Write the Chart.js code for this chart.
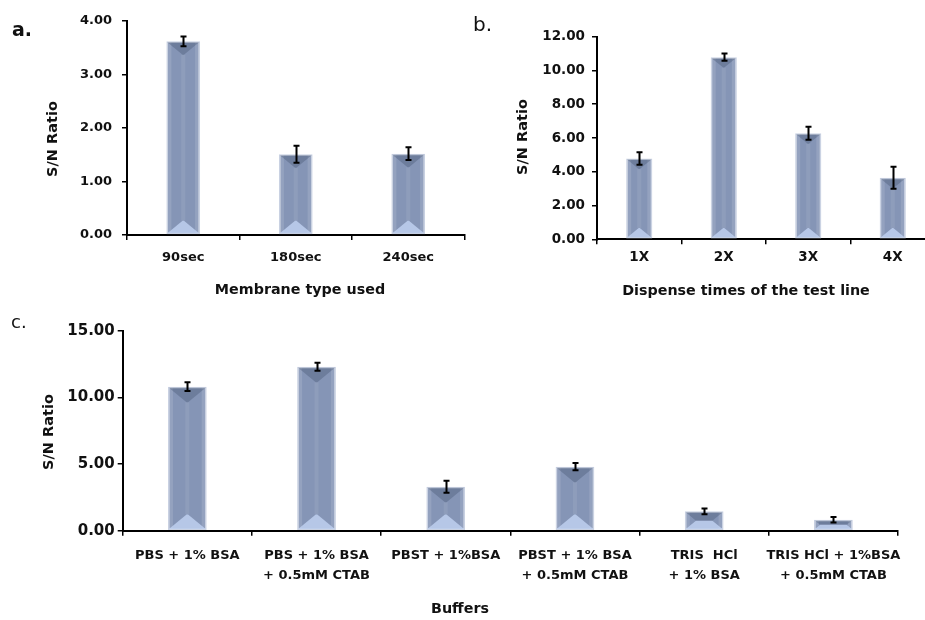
<!DOCTYPE html>
<html>
<head>
<meta charset="utf-8">
<script src="https://cdn.jsdelivr.net/npm/chart.js@4.4.1/dist/chart.umd.min.js"></script>
<style>
  html, body { margin: 0; padding: 0; background: #fff; }
  body { width: 925px; height: 620px; position: relative; overflow: hidden; font-family: "DejaVu Sans", sans-serif; color: #111; }
  .box { position: absolute; }
  .txt { position: absolute; white-space: pre; line-height: 1; }
  .ytitle { position: absolute; white-space: nowrap; font-weight: bold; font-size: 14.5px; transform: translate(-50%, -50%) rotate(-90deg); line-height: 1; }
  .xtitle { position: absolute; white-space: nowrap; font-weight: bold; font-size: 14.3px; transform: translate(-50%, -50%); line-height: 1; }
</style>
</head>
<body>
  <div class="box" style="left:0;top:0;width:470px;height:275px"><canvas id="membraneChart"></canvas></div>
  <div class="box" style="left:460px;top:0;width:480px;height:275px"><canvas id="dispenseChart"></canvas></div>
  <div class="box" style="left:0;top:290px;width:925px;height:330px"><canvas id="bufferChart"></canvas></div>

  <div class="txt" style="left:12px;top:20px;font-size:19px;font-weight:bold">a.</div>
  <div class="txt" style="left:473px;top:14px;font-size:20px">b.</div>
  <div class="txt" style="left:11px;top:313px;font-size:18px">c.</div>

  <div class="ytitle" style="left:52px;top:139px">S/N Ratio</div>
  <div class="ytitle" style="left:522px;top:137px">S/N Ratio</div>
  <div class="ytitle" style="left:48px;top:432px">S/N Ratio</div>

  <div class="xtitle" style="left:300px;top:289px">Membrane type used</div>
  <div class="xtitle" style="left:746px;top:290px">Dispense times of the test line</div>
  <div class="xtitle" style="left:460px;top:608px">Buffers</div>

<script>
// panel a: membrane
const membraneLabels = ["90sec", "180sec", "240sec"];
const membraneValues = [3.62, 1.51, 1.52];
const membraneErrors = [0.09, 0.16, 0.12];

// panel b: dispense times
const dispenseLabels = ["1X", "2X", "3X", "4X"];
const dispenseValues = [4.78, 10.79, 6.28, 3.64];
const dispenseErrors = [0.37, 0.22, 0.38, 0.65];

// panel c: buffers
const bufferLabels = [
  ["PBS + 1% BSA"],
  ["PBS + 1% BSA", "+ 0.5mM CTAB"],
  ["PBST + 1%BSA"],
  ["PBST + 1% BSA", "+ 0.5mM CTAB"],
  ["TRIS  HCl", "+ 1% BSA"],
  ["TRIS HCl + 1%BSA", "+ 0.5mM CTAB"]
];
const bufferValues = [10.80, 12.30, 3.30, 4.80, 1.45, 0.82];
const bufferErrors = [0.33, 0.30, 0.45, 0.27, 0.22, 0.20];

Chart.defaults.font.family = "'DejaVu Sans', sans-serif";
Chart.defaults.font.weight = "bold";
Chart.defaults.color = "#111";

const BAR_FILL = "#8595b6";
const BAR_EDGE = "#c9d1e2";

// bevel look on every bar: dark wedge on top, light wedge at the foot, lighter sides
const bevelPlugin = {
  id: "bevel",
  afterDatasetsDraw(chart) {
    const ctx = chart.ctx;
    ctx.save();
    chart.getDatasetMeta(0).data.forEach(bar => {
      const { x, y, base, width } = bar.getProps(["x", "y", "base", "width"], true);
      const L = x - width / 2 + 1, R = x + width / 2 - 1;
      const h = base - y;
      const d = Math.min(width * 0.4, h / 2);
      const e = Math.max(0, width / 2 - d * 1.2);

      // side strips
      ctx.fillStyle = "rgba(255,255,255,0.13)";
      ctx.fillRect(L, y + 1, 4, h - 2);
      ctx.fillRect(R - 4, y + 1, 4, h - 2);
      ctx.fillStyle = "rgba(255,255,255,0.08)";
      ctx.fillRect(x - 2, y + d, 4, h - 2 * d);

      // top wedge
      ctx.fillStyle = "rgba(60,74,104,0.32)";
      ctx.beginPath();
      ctx.moveTo(L, y + 1);
      ctx.lineTo(R, y + 1);
      ctx.lineTo(x + e, y + d);
      ctx.lineTo(x - e, y + d);
      ctx.closePath();
      ctx.fill();

      // bottom wedge
      ctx.fillStyle = "rgba(190,208,240,0.85)";
      ctx.beginPath();
      ctx.moveTo(L, base - 1);
      ctx.lineTo(R, base - 1);
      ctx.lineTo(x + e, base - d);
      ctx.lineTo(x - e, base - d);
      ctx.closePath();
      ctx.fill();
    });
    ctx.restore();
  }
};

// error bars from the errors array given in options.plugins.errorBars
const errorBarPlugin = {
  id: "errorBars",
  afterDatasetsDraw(chart, args, opts) {
    const ctx = chart.ctx;
    const yScale = chart.scales.y;
    const values = chart.data.datasets[0].data;
    ctx.save();
    ctx.strokeStyle = "#000";
    ctx.lineWidth = 2;
    chart.getDatasetMeta(0).data.forEach((bar, i) => {
      const err = opts.errors[i];
      const top = yScale.getPixelForValue(values[i] + err);
      const bot = yScale.getPixelForValue(values[i] - err);
      const x = Math.round(bar.x) + 0.5;
      ctx.beginPath();
      ctx.moveTo(x, top);
      ctx.lineTo(x, bot);
      ctx.moveTo(x - 3, top);
      ctx.lineTo(x + 3, top);
      ctx.moveTo(x - 3, bot);
      ctx.lineTo(x + 3, bot);
      ctx.stroke();
    });
    ctx.restore();
  }
};

function makeChart(id, cfg) {
  return new Chart(document.getElementById(id), {
    type: "bar",
    data: {
      labels: cfg.labels,
      datasets: [{
        data: cfg.values,
        backgroundColor: BAR_FILL,
        borderColor: BAR_EDGE,
        borderWidth: 1.5,
        borderSkipped: false,
        categoryPercentage: 1,
        barPercentage: cfg.barPct
      }]
    },
    options: {
      responsive: true,
      maintainAspectRatio: false,
      animation: false,
      layout: { padding: { top: cfg.padTop, right: cfg.padRight, left: 0, bottom: 0 } },
      plugins: {
        legend: { display: false },
        tooltip: { enabled: false },
        errorBars: { errors: cfg.errors }
      },
      scales: {
        x: {
          grid: { drawOnChartArea: false, tickLength: 5, color: "#000", lineWidth: 1.5 },
          border: { color: "#000", width: 2 },
          ticks: { font: { size: cfg.xFont, lineHeight: cfg.xLine }, padding: cfg.xPad, maxRotation: 0, autoSkip: false, color: "#111" },
          afterFit: s => { s.height = cfg.xHeight; }
        },
        y: {
          min: 0,
          max: cfg.max,
          grid: { drawOnChartArea: false, tickLength: 5, color: "#000", lineWidth: 1.5 },
          border: { color: "#000", width: 2 },
          ticks: { stepSize: cfg.step, font: { size: cfg.yFont }, padding: cfg.yPad, color: "#111", callback: v => v.toFixed(2) },
          afterFit: s => { s.width = cfg.yWidth; }
        }
      }
    },
    plugins: [bevelPlugin, errorBarPlugin]
  });
}

makeChart("membraneChart", {
  labels: membraneLabels, values: membraneValues, errors: membraneErrors,
  max: 4, step: 1, barPct: 0.3,
  padTop: 21, padRight: 5.5, yWidth: 127, xHeight: 40,
  xFont: 13, xLine: 1.2, xPad: 10, yFont: 13, yPad: 10
});

makeChart("dispenseChart", {
  labels: dispenseLabels, values: dispenseValues, errors: dispenseErrors,
  max: 12, step: 2, barPct: 0.31,
  padTop: 36.7, padRight: 5, yWidth: 137, xHeight: 35.7,
  xFont: 13.5, xLine: 1.2, xPad: 5, yFont: 13.5, yPad: 7
});

makeChart("bufferChart", {
  labels: bufferLabels, values: bufferValues, errors: bufferErrors,
  max: 15, step: 5, barPct: 0.3,
  padTop: 40.7, padRight: 27, yWidth: 122.7, xHeight: 89.3,
  xFont: 13, xLine: 1.54, xPad: 10, yFont: 15, yPad: 3
});
</script>
</body>
</html>
